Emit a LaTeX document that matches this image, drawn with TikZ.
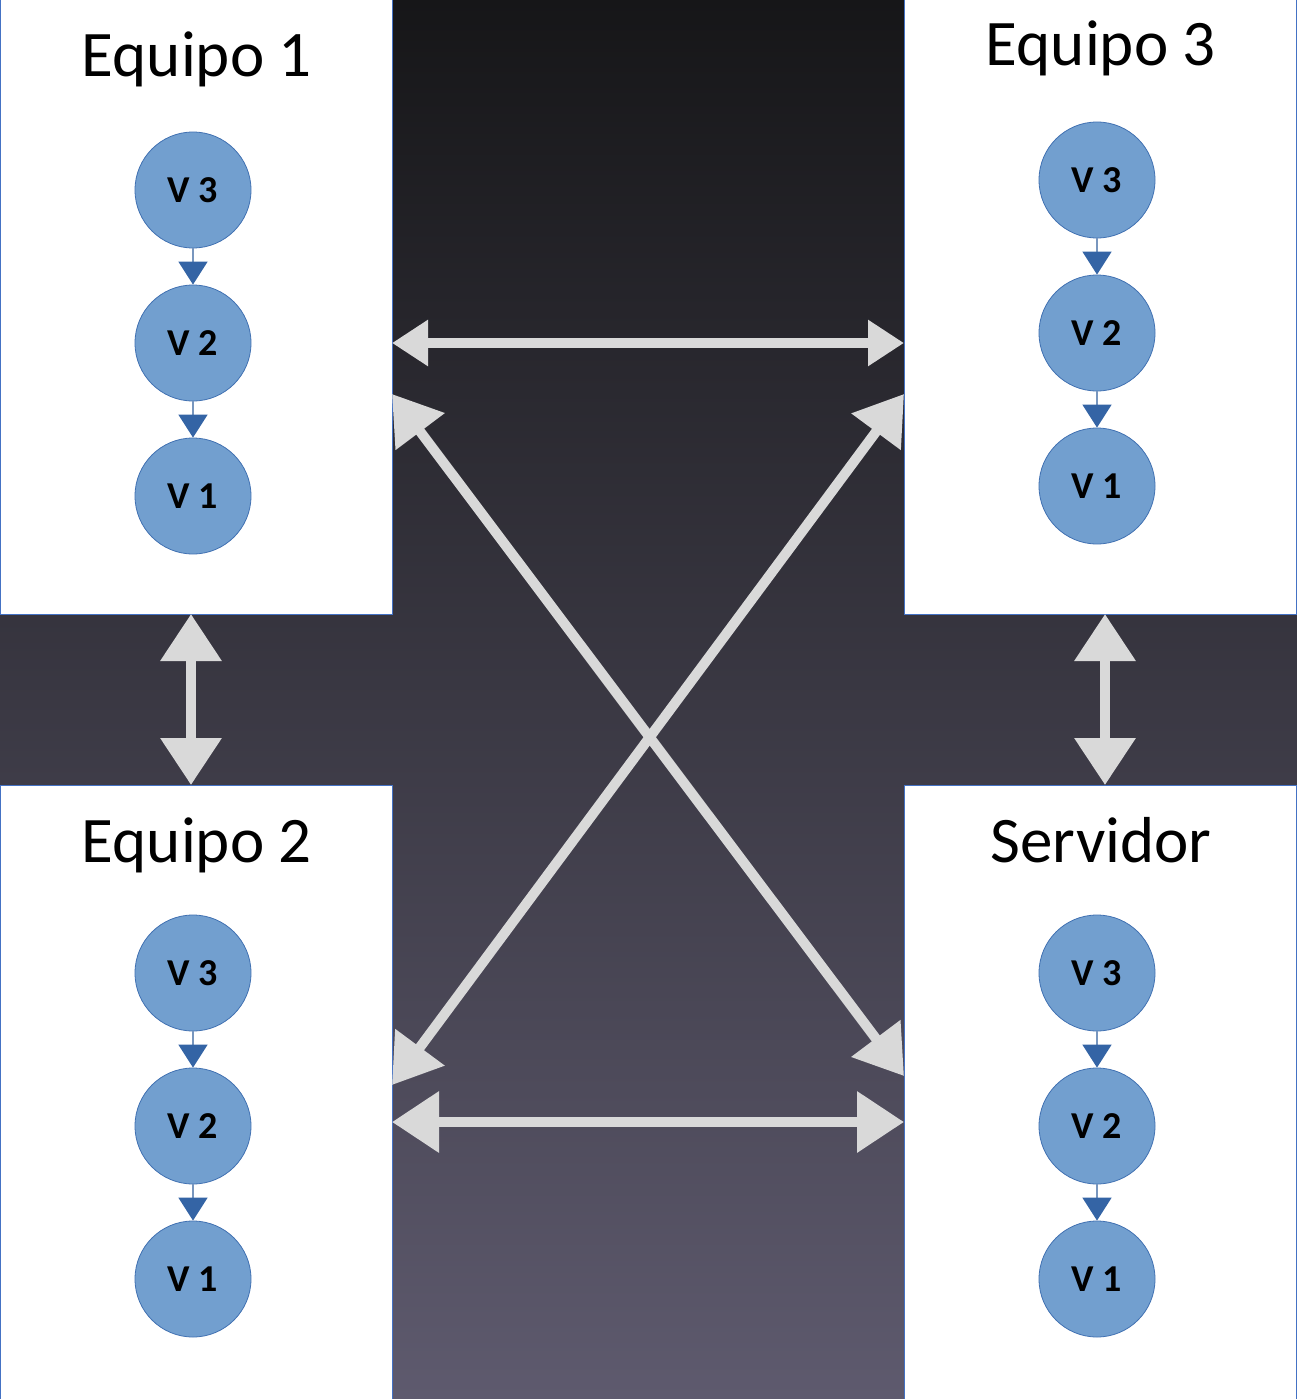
\documentclass[tikz,border=0pt]{standalone}
\usepackage{fontspec}
\setmainfont{Carlito}
\usetikzlibrary{arrows.meta}
\definecolor{bgtop}{RGB}{22,22,24}
\definecolor{bgbot}{RGB}{94,90,110}
\definecolor{boxline}{RGB}{68,114,196}
\definecolor{circfill}{RGB}{114,159,207}
\definecolor{circline}{RGB}{65,113,178}
\definecolor{vline}{RGB}{120,150,190}
\definecolor{vtip}{RGB}{52,100,165}
\definecolor{arrgray}{RGB}{217,217,217}
\tikzset{
  panel/.style={draw=boxline, line width=1pt, fill=white, anchor=north west,
    minimum width=392pt, minimum height=614pt, inner sep=0pt, outer sep=0pt},
  titletext/.style={anchor=base, font=\fontsize{65}{72}\selectfont, text=black, inner sep=0pt},
  ver/.style={circle, draw=circline, line width=0.8pt, fill=circfill, minimum size=116pt,
    inner sep=0pt, font=\bfseries\fontsize{38}{42}\selectfont},
  vlink/.style={draw=vline, line width=1.5pt, -{Triangle[length=23pt, width=29pt, color=vtip]}, shorten >=0pt},
  bigarrow/.style={draw=arrgray, line width=10pt, {Triangle[length=47pt, width=59pt]}-{Triangle[length=47pt, width=59pt]}},
  smallarrow/.style={draw=arrgray, line width=10pt, {Triangle[length=36pt, width=44pt]}-{Triangle[length=36pt, width=44pt]}},
}
\begin{document}
\begin{tikzpicture}[x=1pt, y=-1pt]
\useasboundingbox (0,0) rectangle (1297,1399);
\shade[top color=bgtop, bottom color=bgbot] (0,0) rectangle (1297,1399);

% panels
\node[panel] (p1) at (0,0) {};
\node[panel] (p3) at (904,0) {};
\node[panel] (p2) at (0,785) {};
\node[panel] (ps) at (904,785) {};

% titles
\node[titletext] (t1) at (197,77) {Equipo 1};
\node[titletext] (t3) at (1101,66) {Equipo 3};
\node[titletext] (t2) at (197,862) {Equipo 2};
\node[titletext] (ts) at (1101,862) {Servidor};

% version circles
\foreach \n/\x/\y in {a/193/190, b/1097/180, c/193/973, d/1097/973}{
  \node[ver] (\n3) at (\x,\y) {V 3};
  \node[ver] (\n2) at (\x,\y+153) {V 2};
  \node[ver] (\n1) at (\x,\y+306) {V 1};
  \draw[vlink] (\n3.south) -- (\n2.north);
  \draw[vlink] (\n2.south) -- (\n1.north);
}

% connection points
\coordinate (e1r) at (392,343);
\coordinate (e3l) at (904,343);
\coordinate (e2r) at (392,1122);
\coordinate (esl) at (904,1122);
\coordinate (e1b) at (191,614);
\coordinate (e2t) at (191,785);
\coordinate (e3b) at (1105,614);
\coordinate (est) at (1105,785);
\coordinate (d1) at (392,394);
\coordinate (ds) at (904,1076);
\coordinate (d3) at (904,394);
\coordinate (d2) at (392,1085);

\draw[smallarrow] (e1r) -- (e3l);
\draw[bigarrow] (e2r) -- (esl);
\draw[bigarrow] (e1b) -- (e2t);
\draw[bigarrow] (e3b) -- (est);
\draw[bigarrow] (d1) -- (ds);
\draw[bigarrow] (d3) -- (d2);
\end{tikzpicture}
\end{document}
